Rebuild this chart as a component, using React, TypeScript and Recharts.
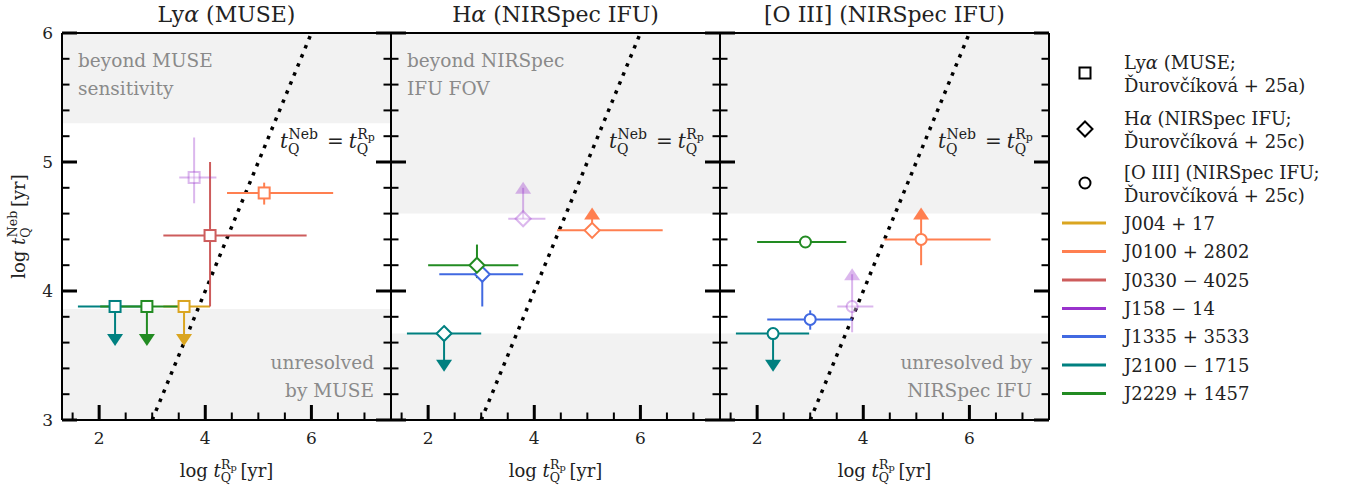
import React from 'react';
import { ScatterChart, Scatter, XAxis, YAxis, ErrorBar, ReferenceArea, ReferenceLine } from 'recharts';

const FONT = "'DejaVu Serif', 'Liberation Serif', serif";
const BAND = '#f2f2f2';
const NOTE = '#8a8a8a';

// axes
const xDomain = [1.3, 7.5];
const yDomain = [3, 6];
const xMajor = [2, 4, 6];
const xMinor = [1.5, 2.5, 3, 3.5, 4.5, 5, 5.5, 6.5, 7];
const yMajor = [3, 4, 5, 6];
const yMinor = [3.2, 3.4, 3.6, 3.8, 4.2, 4.4, 4.6, 4.8, 5.2, 5.4, 5.6, 5.8];
const oneToOne = [3, 6];

// quasars
const qsoNames = ['J004+17', 'J0100+2802', 'J0330-4025', 'J158-14', 'J1335+3533', 'J2100-1715', 'J2229+1457'];
const qsoLabels = ['J004 + 17', 'J0100 + 2802', 'J0330 \u2212 4025', 'J158 \u2212 14', 'J1335 + 3533', 'J2100 \u2212 1715', 'J2229 + 1457'];
const qsoColors = ['#DAA520', '#FF7F50', '#CD5C5C', '#9932CC', '#4169E1', '#008080', '#228B22'];
const fadedQso = 'J158-14';
const FADED = 'rgba(153,50,204,0.35)';
const FADED_FILL = 'rgba(255,255,255,0.35)';

// Lyα (MUSE)
const lyaQso = ['J004+17', 'J0100+2802', 'J0330-4025', 'J158-14', 'J2100-1715', 'J2229+1457'];
const lyaRp = [3.6, 5.11, 4.09, 3.79, 2.3, 2.9];
const lyaRpLo = [3.21, 4.41, 3.21, 3.51, 1.6, 2.02];
const lyaRpHi = [4.09, 6.41, 5.91, 4.21, 3.0, 3.53];
const lyaNeb = [3.88, 4.76, 4.43, 4.88, 3.88, 3.88];
const lyaNebLo = [3.62, 4.67, 3.88, 4.68, 3.62, 3.62];
const lyaNebHi = [3.88, 4.84, 5.0, 5.19, 3.88, 3.88];
const lyaLimit = ['upper', '', '', '', 'upper', 'upper'];
const lyaBands = [[5.3, 6], [3, 3.86]];

// Hα (NIRSpec IFU)
const haQso = ['J0100+2802', 'J158-14', 'J1335+3533', 'J2100-1715', 'J2229+1457'];
const haRp = [5.09, 3.79, 3.02, 2.3, 2.92];
const haRpLo = [4.43, 3.51, 2.21, 1.6, 2.0];
const haRpHi = [6.42, 4.21, 3.79, 3.0, 3.7];
const haNeb = [4.47, 4.56, 4.13, 3.67, 4.2];
const haNebLo = [4.47, 4.56, 3.88, 3.42, 4.1];
const haNebHi = [4.6, 4.8, 4.2, 3.67, 4.36];
const haLimit = ['lower', 'lower', '', 'upper', ''];
const haBands = [[4.6, 6], [3, 3.67]];

// [O III] (NIRSpec IFU)
const o3Qso = ['J0100+2802', 'J158-14', 'J1335+3533', 'J2100-1715', 'J2229+1457'];
const o3Rp = [5.09, 3.79, 3.0, 2.3, 2.91];
const o3RpLo = [4.4, 3.51, 2.19, 1.6, 2.0];
const o3RpHi = [6.4, 4.19, 3.79, 2.98, 3.68];
const o3Neb = [4.4, 3.88, 3.78, 3.67, 4.38];
const o3NebLo = [4.2, 3.68, 3.7, 3.42, 4.38];
const o3NebHi = [4.6, 4.13, 3.85, 3.67, 4.38];
const o3Limit = ['lower', 'lower', '', 'upper', ''];
const o3Bands = [[4.6, 6], [3, 3.67]];

const PLOT_W = 329;
const PLOT_TOP = 33;
const PLOT_H = 387;
const CHART_H = 493;
const ML = 62;
const MR = 10;
const plotLefts = [62, 391, 720];

const panels = [
  { marker: 'square', qso: lyaQso, rp: lyaRp, rpLo: lyaRpLo, rpHi: lyaRpHi, neb: lyaNeb, nebLo: lyaNebLo, nebHi: lyaNebHi, limit: lyaLimit, bands: lyaBands },
  { marker: 'diamond', qso: haQso, rp: haRp, rpLo: haRpLo, rpHi: haRpHi, neb: haNeb, nebLo: haNebLo, nebHi: haNebHi, limit: haLimit, bands: haBands },
  { marker: 'circle', qso: o3Qso, rp: o3Rp, rpLo: o3RpLo, rpHi: o3RpHi, neb: o3Neb, nebLo: o3NebLo, nebHi: o3NebHi, limit: o3Limit, bands: o3Bands },
];

function markerShape(kind: string, stroke: string, fill: string) {
  return (p: any) => {
    const { cx, cy } = p;
    if (kind === 'square') {
      return <rect x={cx - 5.5} y={cy - 5.5} width={11} height={11} fill={fill} stroke={stroke} strokeWidth={2} />;
    }
    if (kind === 'diamond') {
      return <path d={`M${cx},${cy - 7.5}L${cx + 7.5},${cy}L${cx},${cy + 7.5}L${cx - 7.5},${cy}Z`} fill={fill} stroke={stroke} strokeWidth={2} />;
    }
    return <circle cx={cx} cy={cy} r={5.5} fill={fill} stroke={stroke} strokeWidth={2} />;
  };
}

// filled caret at the end of a limit
function arrowShape(dir: string, fill: string) {
  return (p: any) => {
    const { cx, cy } = p;
    const d = dir === 'upper'
      ? `M${cx - 8},${cy - 6}L${cx + 8},${cy - 6}L${cx},${cy + 6}Z`
      : `M${cx - 8},${cy + 6}L${cx + 8},${cy + 6}L${cx},${cy - 6}Z`;
    return <path d={d} fill={fill} />;
  };
}

const noMarker = () => <g />;

// inward tick marks, drawn by the tick renderer; labels only where asked
const MAJOR_LEN = 15;
const MINOR_LEN = 7.5;
function tickMark(side: string, majors: number[], label: boolean) {
  return (p: any) => {
    const v = p.payload.value;
    const major = majors.includes(v);
    const len = major ? MAJOR_LEN : MINOR_LEN;
    const w = major ? 3 : 2;
    const { x, y } = p;
    let line;
    if (side === 'bottom') line = <line x1={x} x2={x} y1={y} y2={y - len} stroke="#000" strokeWidth={w} />;
    else if (side === 'top') line = <line x1={x} x2={x} y1={y} y2={y + len} stroke="#000" strokeWidth={w} />;
    else if (side === 'left') line = <line x1={x} x2={x + len} y1={y} y2={y} stroke="#000" strokeWidth={w} />;
    else line = <line x1={x} x2={x - len} y1={y} y2={y} stroke="#000" strokeWidth={w} />;
    let text = null;
    if (label && major && side === 'bottom') {
      text = <text x={x} y={y + 24} textAnchor="middle" fontFamily={FONT} fontSize={17} fill="#222">{v}</text>;
    }
    if (label && major && side === 'left') {
      text = <text x={x - 9} y={y + 6} textAnchor="end" fontFamily={FONT} fontSize={17} fill="#222">{v}</text>;
    }
    return <g>{line}{text}</g>;
  };
}

const spine = { stroke: '#000', strokeWidth: 2 };
const xTicks = [...xMinor, ...xMajor].sort((a, b) => a - b);
const yTicks = [...yMinor, ...yMajor].sort((a, b) => a - b);

function Panel({ spec, plotLeft, showY }: { spec: any; plotLeft: number; showY: boolean }) {
  const rows = spec.qso.map((q: string, i: number) => {
    const k = qsoNames.indexOf(q);
    const faded = q === fadedQso;
    const lim = spec.limit[i];
    return {
      q,
      lim,
      stroke: faded ? FADED : qsoColors[k],
      fill: faded ? FADED_FILL : '#fff',
      pt: {
        x: spec.rp[i],
        y: spec.neb[i],
        ex: [spec.rp[i] - spec.rpLo[i], spec.rpHi[i] - spec.rp[i]],
        ey: [spec.neb[i] - spec.nebLo[i], spec.nebHi[i] - spec.neb[i]],
      },
      tip: lim === 'upper' ? { x: spec.rp[i], y: spec.nebLo[i] } : lim === 'lower' ? { x: spec.rp[i], y: spec.nebHi[i] } : null,
    };
  });

  const xc = { type: 'number' as const, domain: xDomain, allowDataOverflow: true, interval: 0 as const, height: 1, mirror: true, ticks: xTicks, tickSize: 0, tickMargin: 0, tickLine: false, axisLine: spine };
  const yc = { type: 'number' as const, domain: yDomain, allowDataOverflow: true, interval: 0 as const, width: 1, mirror: true, ticks: yTicks, tickSize: 0, tickMargin: 0, tickLine: false, axisLine: spine };

  return (
    <div style={{ position: 'absolute', left: plotLeft - ML, top: 0 }}>
      <ScatterChart
        width={ML + PLOT_W + MR}
        height={CHART_H}
        margin={{ top: PLOT_TOP, right: MR, bottom: CHART_H - PLOT_TOP - PLOT_H, left: ML }}
      >
        {spec.bands.map((b: number[]) => (
          <ReferenceArea key={b[0]} xAxisId="x" yAxisId="y" x1={xDomain[0]} x2={xDomain[1]} y1={b[0]} y2={b[1]}
            fill={BAND} fillOpacity={1} stroke="none" ifOverflow="visible" />
        ))}
        <ReferenceLine xAxisId="x" yAxisId="y"
          segment={[{ x: oneToOne[0], y: oneToOne[0] }, { x: oneToOne[1], y: oneToOne[1] }]}
          stroke="#000" strokeWidth={3.5} strokeDasharray="3.5 6.3" ifOverflow="visible" />

        {rows.map((r: any) => (
          <Scatter key={'e' + r.q} xAxisId="x" yAxisId="y" data={[r.pt]} shape={noMarker} isAnimationActive={false}>
            <ErrorBar dataKey="ex" direction="x" width={0} stroke={r.stroke} strokeWidth={2} isAnimationActive={false} />
            <ErrorBar dataKey="ey" direction="y" width={0} stroke={r.stroke} strokeWidth={2} isAnimationActive={false} />
          </Scatter>
        ))}
        {rows.filter((r: any) => r.tip).map((r: any) => (
          <Scatter key={'a' + r.q} xAxisId="x" yAxisId="y" data={[r.tip]} shape={arrowShape(r.lim, r.stroke)} isAnimationActive={false} />
        ))}
        {rows.map((r: any) => (
          <Scatter key={'m' + r.q} xAxisId="x" yAxisId="y" data={[r.pt]} shape={markerShape(spec.marker, r.stroke, r.fill)} isAnimationActive={false} />
        ))}

        <XAxis xAxisId="x" dataKey="x" {...xc} orientation="bottom" tick={tickMark('bottom', xMajor, true)} />
        <XAxis xAxisId="xt" {...xc} orientation="top" tick={tickMark('top', xMajor, false)} />
        <YAxis yAxisId="y" dataKey="y" {...yc} orientation="left" tick={tickMark('left', yMajor, showY)} />
        <YAxis yAxisId="yr" {...yc} orientation="right" tick={tickMark('right', yMajor, false)} />
      </ScatterChart>
    </div>
  );
}

// t_Q with a stacked superscript
function tQ(fs: number, sup: string) {
  const s = fs * 0.7;
  const qAdv = s * 0.787;
  const down = fs * 0.28;
  const up = fs * 0.45;
  const out = [
    <tspan key="t" fontStyle="italic">t</tspan>,
    <tspan key="q" fontSize={s} dy={down}>Q</tspan>,
    <tspan key="s" fontSize={s} dx={-qAdv} dy={-(down + up)}>{sup === 'Neb' ? 'Neb' : 'R'}</tspan>,
  ];
  let back = up;
  if (sup === 'Rp') {
    out.push(<tspan key="p" fontSize={fs * 0.55} dy={fs * 0.12}>p</tspan>);
    back = up - fs * 0.12;
  }
  out.push(<tspan key="r" fontSize={fs} dy={back}>{'\u2009'}</tspan>);
  return out;
}

const titles = [
  [<tspan key="a">Ly</tspan>, <tspan key="b" fontStyle="italic">α</tspan>, <tspan key="c"> (MUSE)</tspan>],
  [<tspan key="a">H</tspan>, <tspan key="b" fontStyle="italic">α</tspan>, <tspan key="c"> (NIRSpec IFU)</tspan>],
  [<tspan key="a">[O III] (NIRSpec IFU)</tspan>],
];
const topNotes = [['beyond MUSE', 'sensitivity'], ['beyond NIRSpec', 'IFU FOV'], []];
const bottomNotes = [['unresolved', 'by MUSE'], [], ['unresolved by', 'NIRSpec IFU']];

const legendLines = [
  { kind: 'square', y: 73, lines: [[<tspan key="a">Ly</tspan>, <tspan key="b" fontStyle="italic">α</tspan>, <tspan key="c"> (MUSE;</tspan>], 'Ďurovčíková + 25a)'] },
  { kind: 'diamond', y: 129, lines: [[<tspan key="a">H</tspan>, <tspan key="b" fontStyle="italic">α</tspan>, <tspan key="c"> (NIRSpec IFU;</tspan>], 'Ďurovčíková + 25c)'] },
  { kind: 'circle', y: 183, lines: ['[O III] (NIRSpec IFU;', 'Ďurovčíková + 25c)'] },
];
const qsoRowY = [223, 251.5, 280, 308.5, 336.5, 365, 393.5];

function Overlay() {
  return (
    <svg width={1348} height={493} style={{ position: 'absolute', left: 0, top: 0, pointerEvents: 'none' }} fontFamily={FONT}>
      {plotLefts.map((l, i) => (
        <g key={i}>
          <text x={l + PLOT_W / 2} y={22} textAnchor="middle" fontSize={22} fill="#222">{titles[i]}</text>
          {topNotes[i].map((t, j) => (
            <text key={t} x={l + 16} y={67 + j * 28} fontSize={18.5} fill={NOTE}>{t}</text>
          ))}
          {bottomNotes[i].map((t, j) => (
            <text key={t} x={l + PLOT_W - 17} y={369 + j * 28} textAnchor="end" fontSize={18.5} fill={NOTE}>{t}</text>
          ))}
          <text x={l + 218} y={148} fontSize={20} fill="#222">
            {tQ(20, 'Neb')}
            <tspan>{'\u2005=\u2005'}</tspan>
            {tQ(20, 'Rp')}
          </text>
          <text x={l + PLOT_W / 2} y={477} textAnchor="middle" fontSize={18} fill="#222">
            <tspan>log </tspan>
            {tQ(18, 'Rp')}
            <tspan>[yr]</tspan>
          </text>
        </g>
      ))}
      <text transform={`translate(25,${PLOT_TOP + PLOT_H / 2}) rotate(-90)`} textAnchor="middle" fontSize={18} fill="#222">
        <tspan>log </tspan>
        {tQ(18, 'Neb')}
        <tspan>[yr]</tspan>
      </text>

      {legendLines.map((e) => {
        const cx = 1085;
        const cy = e.y;
        const mk = e.kind === 'square'
          ? <rect x={cx - 5.5} y={cy - 5.5} width={11} height={11} fill="#fff" stroke="#000" strokeWidth={2} />
          : e.kind === 'diamond'
            ? <path d={`M${cx},${cy - 7.5}L${cx + 7.5},${cy}L${cx},${cy + 7.5}L${cx - 7.5},${cy}Z`} fill="#fff" stroke="#000" strokeWidth={2} />
            : <circle cx={cx} cy={cy} r={5.5} fill="#fff" stroke="#000" strokeWidth={2} />;
        return (
          <g key={e.kind}>
            {mk}
            <text x={1124} y={cy - 11 + 6.5} fontSize={18} fill="#222">{e.lines[0]}</text>
            <text x={1124} y={cy + 12 + 6.5} fontSize={18} fill="#222">{e.lines[1]}</text>
          </g>
        );
      })}
      {qsoLabels.map((name, i) => (
        <g key={name}>
          <line x1={1062} x2={1106} y1={qsoRowY[i]} y2={qsoRowY[i]} stroke={qsoColors[i]} strokeWidth={3} />
          <text x={1124} y={qsoRowY[i] + 6.5} fontSize={18} fill="#222">{name}</text>
        </g>
      ))}
    </svg>
  );
}

export default function App() {
  return (
    <div style={{ position: 'absolute', left: 0, top: 0, width: 1348, height: 493, background: '#fff', overflow: 'hidden' }}>
      {panels.map((p, i) => (
        <Panel key={i} spec={p} plotLeft={plotLefts[i]} showY={i === 0} />
      ))}
      <Overlay />
    </div>
  );
}
